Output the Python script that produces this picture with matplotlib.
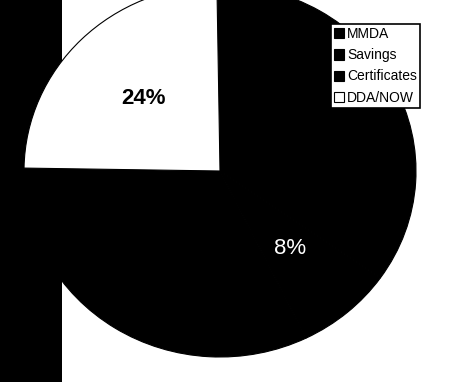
import matplotlib
matplotlib.use("Agg")
import matplotlib.pyplot as plt
from matplotlib.patches import Rectangle

plt.rcParams['font.family'] = ['Liberation Sans', 'DejaVu Sans']

# deposit mix
labels = ['MMDA', 'Savings', 'Certificates', 'DDA/NOW']
shares = [35.0, 8.0, 32.5, 24.5]
colors = ['black', 'black', 'black', 'white']
pct_colors = ['black', 'white', 'black', 'black']
pct_weights = ['normal', 'normal', 'normal', 'bold']

W, H = 458, 382
fig = plt.figure(figsize=(W / 100, H / 100), dpi=100)

# dark scanner edge on the left
fig.patches.append(Rectangle((0, 0), 62 / W, 1, transform=fig.transFigure,
                             facecolor='black', edgecolor='none', zorder=-5))

# pie is slightly oval in the scan
cx, cy, rx, ry = 220, 171, 196, 186
ax = fig.add_axes([(cx - rx) / W, 1 - (cy + ry) / H, 2 * rx / W, 2 * ry / H])
ax.patch.set_alpha(0)

wedges, texts, autotexts = ax.pie(shares, colors=colors, startangle=90.9, counterclock=False,
                                  autopct='%.0f%%', pctdistance=0.55,
                                  wedgeprops=dict(edgecolor='black', linewidth=0.8))
ax.set_aspect('auto')
ax.set_xlim(-1, 1)
ax.set_ylim(-1, 1)

for t, c, w in zip(autotexts, pct_colors, pct_weights):
    t.set_color(c)
    t.set_fontweight(w)
    t.set_fontsize(16)

leg = fig.legend(wedges, labels, loc='upper left', bbox_to_anchor=(331 / W, 1 - 24 / H),
                 bbox_transform=fig.transFigure, borderaxespad=0, fontsize=10,
                 handlelength=0.75, handleheight=0.75, handletextpad=0.2,
                 labelspacing=0.52, borderpad=0.22, fancybox=False, framealpha=1)
leg.get_frame().set_edgecolor('black')
leg.get_frame().set_linewidth(1.2)

fig.savefig('out.png', dpi=100)
